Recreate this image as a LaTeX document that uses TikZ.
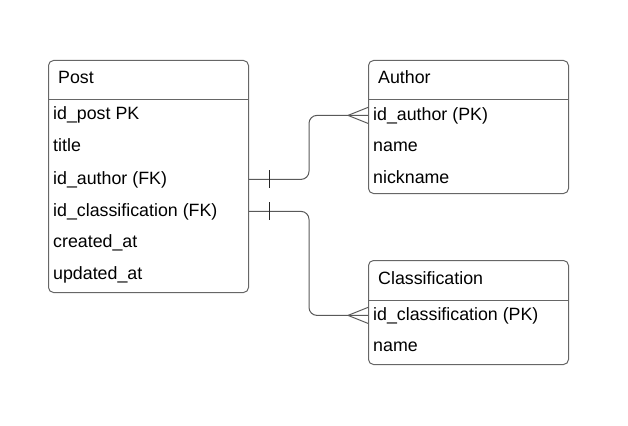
\documentclass[tikz,border=0pt]{standalone}
\usepackage{fontspec}
\setmainfont{Liberation Sans}
\begin{document}
\begin{tikzpicture}[x=1pt,y=-1pt,
  entity/.style={draw=black!60,line width=1pt,rounded corners=5pt,inner sep=0pt,anchor=north west,minimum width=200pt},
  field/.style={anchor=base west,inner sep=0pt,font=\fontsize{17.8}{20}\selectfont},
  rel/.style={draw=black!65,line width=1pt,rounded corners=8pt},
  tick/.style={draw=black!85,line width=1pt}]
   \useasboundingbox (0,0) rectangle (628,425);
   % Post table
   \node[entity,minimum height=232pt] (post) at (48,60) {};
   \draw[black!60,line width=1pt] (post.west |- 0,100) -- (post.east |- 0,100);
   \node[field] (post-head) at (58,84) {Post};
   \node[field] (post-id) at (53,119) {id\_post PK};
   \node[field] (post-title) at (53,151) {title};
   \node[field] (post-idauthor) at (53,184) {id\_author (FK)};
   \node[field] (post-idclass) at (53,216) {id\_classification (FK)};
   \node[field] (post-created) at (53,247) {created\_at};
   \node[field] (post-updated) at (53,279) {updated\_at};
   % Author table
   \node[entity,minimum height=133pt] (author) at (368,60) {};
   \draw[black!60,line width=1pt] (author.west |- 0,100) -- (author.east |- 0,100);
   \node[field] (author-head) at (378,84) {Author};
   \node[field] (author-id) at (373,120) {id\_author (PK)};
   \node[field] (author-name) at (373,151) {name};
   \node[field] (author-nick) at (373,183) {nickname};
   % Classification table
   \node[entity,minimum height=104pt] (class) at (368,260) {};
   \draw[black!60,line width=1pt] (class.west |- 0,300) -- (class.east |- 0,300);
   \node[field] (class-head) at (378,284) {Classification};
   \node[field] (class-id) at (373,320) {id\_classification (PK)};
   \node[field] (class-name) at (373,351) {name};
   % relations
   \draw[rel] (post.east |- post-idauthor) -- ++(60,0) |- (author.west |- author-id);
   \draw[rel] (author.west |- author-id) ++(-20,0) -- ++(20,-8) ++(-20,8) -- ++(20,8);
   \draw[tick] (post.east |- post-idauthor) ++(20,-9) -- ++(0,18);
   \draw[rel] (post.east |- post-idclass) -- ++(60,0) |- (class.west |- class-id);
   \draw[rel] (class.west |- class-id) ++(-20,0) -- ++(20,-8) ++(-20,8) -- ++(20,8);
   \draw[tick] (post.east |- post-idclass) ++(20,-9) -- ++(0,18);
\end{tikzpicture}
\end{document}
